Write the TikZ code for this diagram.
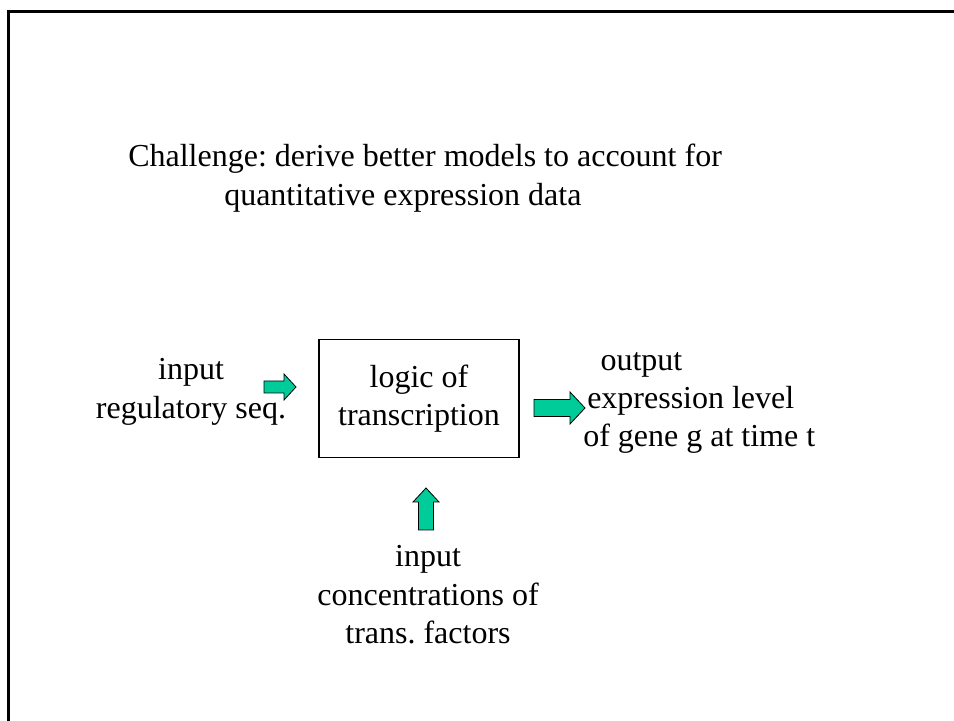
\documentclass[tikz,border=0pt]{standalone}
\usepackage{fontspec}
\setmainfont{Liberation Serif}
\usepackage{tikz}
\usetikzlibrary{
  positioning
}
\frenchspacing
\definecolor{arrowgreen}{RGB}{0,204,153}
\tikzset{
  x=0.75pt, y=0.75pt,
  every node/.style={font=\fontsize{24}{28.8}\selectfont, inner sep=0pt},
  frame/.style={line width=2.25pt},
  logicbox/.style={draw, thick, minimum width=150pt, minimum height=88pt, align=center},
  label text/.style={align=center},
  pics/fatarrow/.style n args={4}{code={
    \filldraw[fill=arrowgreen, draw=black, line width=0.6pt, line join=miter]
      (0,{-#2/2}) -- ({#1-#4},{-#2/2}) -- ({#1-#4},{-#3/2}) -- (#1,0)
      -- ({#1-#4},{#3/2}) -- ({#1-#4},{#2/2}) -- (0,{#2/2}) -- cycle;
  }}
}

\begin{document}
\begin{tikzpicture}
  \useasboundingbox (0,0) rectangle (954,721);
  \draw[frame] (8.5,-10) -- (8.5,709.5) -- (970,709.5);

  \node[anchor=west, align=left] (challenge) at (128,543)
    {Challenge: derive better models to account for\\
     \hspace*{72pt}quantitative expression data};

  \node[logicbox] (logic) at (419,322.5) {logic of\\transcription};
  \node[label text] (seq) at (191,329) {input\\regulatory seq.};
  \node[anchor=west, align=left] (out) at (583,318)
    {\hspace*{13pt}output\\\hspace*{3pt}expression level\\of gene g at time t};
  \node[label text] (tf) at (428,126) {input\\concentrations of\\trans. factors};

  \pic at (264,334) {fatarrow={32}{12}{26}{12}};
  \pic at (534,313) {fatarrow={51}{17}{32}{15}};
  \pic[rotate=90] at (426,191) {fatarrow={42}{15}{26}{14}};
\end{tikzpicture}
\end{document}
